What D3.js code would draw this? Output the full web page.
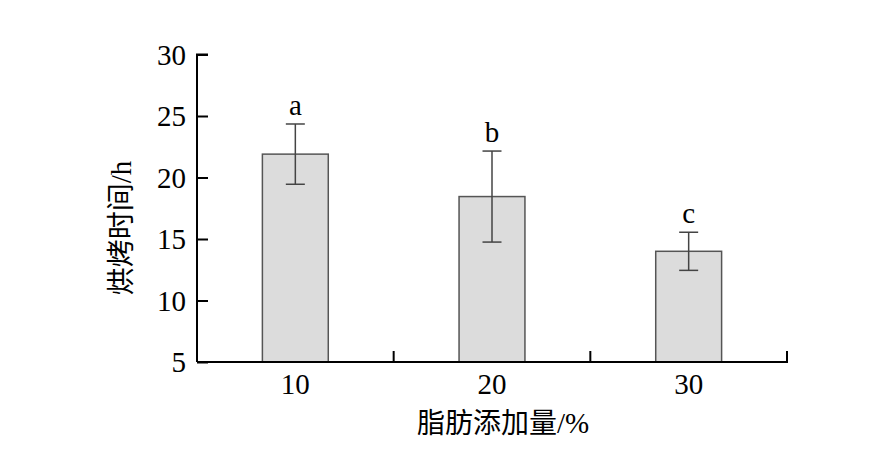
<!DOCTYPE html>
<html><head><meta charset="utf-8">
<script src="https://cdn.jsdelivr.net/npm/d3@7"></script>
<style>body{margin:0;background:#fff}</style>
</head><body>
<script>
const categories = ["10", "20", "30"];
const means = [21.9, 18.45, 14.0];
const errors = [2.45, 3.7, 1.55];
const letters = ["a", "b", "c"];
const yTicks = [5, 10, 15, 20, 25, 30];
const xTitle = ["脂肪添加量", "/%"];
const yTitle = ["烘烤时间", "/h"];

const W = 869, H = 458;
const m = {left: 197, right: 82, top: 54.5, bottom: 96};
const svg = d3.select("body").append("svg").attr("width", W).attr("height", H);
const serif = "'Liberation Serif','Times New Roman',serif";
const cjk = "'Noto Sans CJK SC','Liberation Serif',serif";

const x = d3.scaleBand().domain(categories).range([m.left, W - m.right]).paddingInner(0).paddingOuter(0);
const y = d3.scaleLinear().domain([5, 30]).range([H - m.bottom, m.top]);
const barW = x.bandwidth() * 0.335;

// bars
svg.selectAll("rect.bar").data(categories).join("rect")
  .attr("x", (d) => x(d) + x.bandwidth() / 2 - barW / 2)
  .attr("y", (d, i) => y(means[i]))
  .attr("width", barW)
  .attr("height", (d, i) => y(5) - y(means[i]))
  .attr("fill", "#dcdcdc").attr("stroke", "#555").attr("stroke-width", 1.5);

// error bars
const g = svg.append("g").attr("stroke", "#444").attr("stroke-width", 1.5);
categories.forEach((c, i) => {
  const cx = x(c) + x.bandwidth() / 2;
  g.append("line").attr("x1", cx).attr("x2", cx).attr("y1", y(means[i] + errors[i])).attr("y2", y(means[i] - errors[i]));
  [means[i] + errors[i], means[i] - errors[i]].forEach(v => {
    g.append("line").attr("x1", cx - 9.5).attr("x2", cx + 9.5).attr("y1", y(v)).attr("y2", y(v));
  });
  svg.append("text").attr("x", cx).attr("y", y(means[i] + errors[i]) - 9)
    .attr("text-anchor", "middle").attr("font-family", serif).attr("font-size", 29).attr("fill", "#000")
    .text(letters[i]);
});

// y axis
const yAxis = svg.append("g").attr("transform", `translate(${m.left},0)`)
  .call(d3.axisRight(y).tickValues(yTicks).tickSize(11).tickFormat(d3.format("d")));
yAxis.select(".domain").attr("stroke", "#000").attr("stroke-width", 2).attr("d", `M11,${y(30)}H0V${y(5)}`);
yAxis.selectAll(".tick line").attr("stroke", "#000").attr("stroke-width", 2);
yAxis.selectAll(".tick text").attr("x", -11).attr("dy", "0.34em").attr("text-anchor", "end")
  .attr("font-family", serif).attr("font-size", 29).attr("fill", "#000");

// x axis
const xAxis = svg.append("g").attr("transform", `translate(0,${y(5)})`)
  .call(d3.axisBottom(x).tickSize(0));
xAxis.select(".domain").attr("stroke", "#000").attr("stroke-width", 2)
  .attr("d", `M${m.left},0H${W - m.right}V-11`);
xAxis.selectAll(".tick line").remove();
xAxis.selectAll(".tick text").attr("y", 0).attr("dy", "1.1em")
  .attr("font-family", serif).attr("font-size", 29).attr("fill", "#000");
// boundary ticks
categories.slice(1).forEach(c => {
  xAxis.append("line").attr("x1", x(c)).attr("x2", x(c)).attr("y1", 0).attr("y2", -11)
    .attr("stroke", "#000").attr("stroke-width", 2);
});

// axis titles
const xt = svg.append("text").attr("x", 417).attr("y", 433)
  .attr("font-size", 28).attr("fill", "#000");
xt.append("tspan").attr("font-family", cjk).text(xTitle[0]);
xt.append("tspan").attr("font-family", serif).attr("font-size", 29).text(xTitle[1]);

const yt = svg.append("text").attr("transform", `translate(131,228) rotate(-90)`)
  .attr("text-anchor", "middle").attr("font-size", 28).attr("fill", "#000");
yt.append("tspan").attr("font-family", cjk).text(yTitle[0]);
yt.append("tspan").attr("font-family", serif).attr("font-size", 29).text(yTitle[1]);
</script>
</body></html>
